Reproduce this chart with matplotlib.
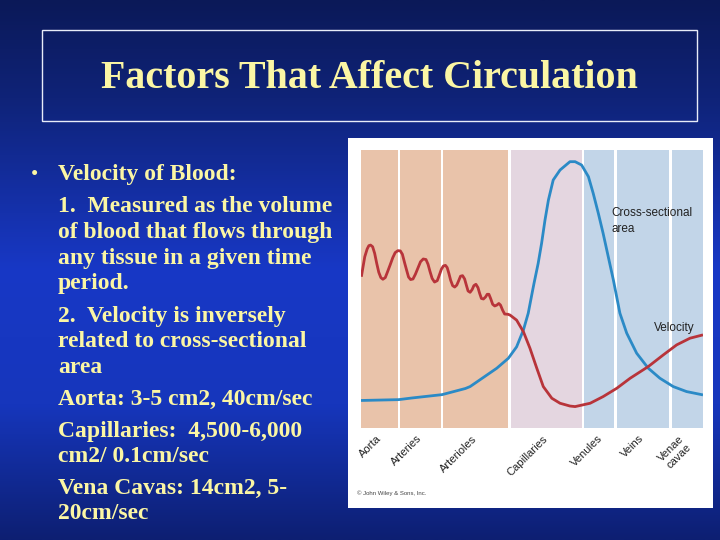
import numpy as np
import matplotlib.pyplot as plt
from matplotlib.patches import Rectangle
from matplotlib.colors import LinearSegmentedColormap

# -------- data (x: 0-100 across the plot, y: 0-100 up the plot) --------
categories = ['Aorta', 'Arteries', 'Arterioles', 'Capillaries',
              'Venules', 'Veins', 'Venae\ncavae']
label_pos = [4.6, 16.1, 32.5, 53.0, 69.0, 81.3, 92.8]
band_start = [0.0, 11.5, 24.1, 43.8, 65.3, 74.8, 90.8]
band_end = [10.7, 23.4, 43.0, 64.5, 74.1, 90.1, 100.0]
band_kind = ['art', 'art', 'art', 'cap', 'ven', 'ven', 'ven']

area_x = [0.0, 11.0, 14.9, 23.7, 30.5, 31.9, 35.8, 39.7, 43.1, 45.5,
          47.5, 48.9, 50.2, 50.6, 51.8, 52.8, 53.8, 54.8, 56.2, 58.2,
          61.1, 62.6, 64.5, 66.5, 67.9, 69.4, 70.8, 72.3, 73.8, 75.7,
          77.7, 80.6, 84.0, 87.4, 91.3, 95.2, 100.0]
area_y = [9.9, 10.2, 10.8, 12.0, 14.2, 14.9, 18.2, 21.5, 25.1, 29.2,
          35.3, 41.3, 49.6, 52.1, 59.2, 66.4, 74.8, 82.0, 89.2, 92.8,
          95.8, 95.8, 94.6, 90.4, 84.4, 77.2, 70.0, 61.6, 53.2, 41.3,
          34.1, 26.9, 21.5, 17.9, 14.9, 13.1, 11.9]

vel_x = [0.1, 0.6, 1.1, 1.8, 2.3, 2.8, 3.4, 4.0, 4.6, 5.2, 5.8, 6.4,
         7.1, 7.7, 8.5, 9.3, 10.0, 10.8, 11.5, 12.1, 12.8, 13.4, 13.9,
         14.5, 15.2, 15.9, 16.7, 17.4, 18.2, 19.0, 19.6, 20.2, 20.8,
         21.5, 22.3, 22.9, 23.5, 24.1, 24.7, 25.2, 25.7, 26.2, 26.8,
         27.4, 28.0, 28.6, 29.1, 29.7, 30.3, 30.8, 31.3, 31.9, 32.5,
         33.0, 33.6, 34.2, 34.7, 35.2, 35.8, 36.4, 36.9, 37.4, 37.9,
         38.5, 39.1, 39.7, 40.3, 40.8, 41.4, 42.0, 43.0, 43.6, 45.5,
         47.5, 49.4, 51.4, 53.3, 55.8, 58.2, 61.1, 62.6, 67.0, 70.8,
         74.8, 78.7, 84.0, 88.4, 92.3, 96.2, 100.0]
vel_y = [54.4, 58.0, 61.6, 64.4, 65.6, 65.8, 65.2, 62.8, 59.2, 56.0,
         54.1, 53.5, 54.1, 56.0, 58.6, 61.3, 63.1, 63.8, 63.7, 62.5,
         59.2, 56.5, 54.3, 53.4, 53.6, 55.3, 57.7, 59.8, 60.8, 60.6,
         58.9, 56.2, 53.8, 52.5, 53.0, 55.0, 57.1, 58.3, 58.5, 57.7,
         55.6, 53.2, 51.2, 50.7, 51.4, 53.1, 54.6, 54.8, 53.6, 51.4,
         49.3, 48.8, 49.8, 51.2, 51.7, 50.5, 48.4, 46.6, 46.4, 47.1,
         48.1, 48.1, 46.6, 44.5, 43.9, 44.2, 44.8, 44.2, 42.4, 41.0,
         40.9, 40.6, 38.8, 34.6, 28.7, 21.5, 14.9, 10.7, 8.9, 7.9,
         7.7, 8.9, 11.3, 14.3, 17.9, 22.1, 26.3, 29.9, 32.3, 33.5]

title = 'Factors That Affect Circulation'
bullet_lines = ['Velocity of Blood:',
                '1.  Measured as the volume',
                'of blood that flows through',
                'any tissue in a given time',
                'period.',
                '2.  Velocity is inversely',
                'related to cross-sectional',
                'area',
                'Aorta: 3-5 cm2, 40cm/sec',
                'Capillaries:  4,500-6,000',
                'cm2/ 0.1cm/sec',
                'Vena Cavas: 14cm2, 5-',
                '20cm/sec']
line_y = [180, 212, 238, 264, 289, 322, 347, 373, 405, 437, 462, 494, 519]

band_colors = {'art': '#e9c3aa', 'cap': '#e4d6e0', 'ven': '#c2d5e8'}
yellow = '#fbf6a4'

fig = plt.figure(figsize=(7.2, 5.4), dpi=100)

# -------- slide background --------
bg = fig.add_axes([0, 0, 1, 1])
cmap = LinearSegmentedColormap.from_list(
    'slide', [(0.0, '#0b1958'), (0.18, '#0f2378'), (0.5, '#1838c6'),
              (0.75, '#1636bc'), (1.0, '#0d1f72')])
grad = np.linspace(0, 1, 256).reshape(-1, 1)
bg.imshow(grad, cmap=cmap, aspect='auto', extent=[0, 720, 540, 0])
bg.set_xlim(0, 720)
bg.set_ylim(540, 0)
bg.axis('off')

bg.add_patch(Rectangle((42, 30), 655, 91, fill=False,
                       edgecolor='#e8ecf8', lw=1))
bg.text(369, 79, title, color=yellow, fontsize=28.8, fontweight='bold',
        family='Liberation Serif', ha='center', va='center')

bg.text(31, line_y[0], '\u2022', color=yellow, fontsize=15,
        family='Liberation Serif', ha='left', va='baseline')
for txt, y in zip(bullet_lines, line_y):
    bg.text(58, y, txt, color=yellow, fontsize=17, fontweight='bold',
            family='Liberation Serif', ha='left', va='baseline')

# white picture panel
bg.add_patch(Rectangle((348, 138), 365, 370, facecolor='white',
                       edgecolor='none'))
bg.text(357, 493, '\u00a9 John Wiley & Sons, Inc.', fontsize=4.3,
        color='#444444', family='Liberation Sans', va='center')

# -------- chart --------
ax = fig.add_axes([361 / 720, 112 / 540, 342 / 720, 278 / 540])
for s, e, k in zip(band_start, band_end, band_kind):
    ax.axvspan(s, e, color=band_colors[k], lw=0)

ax.plot(area_x, area_y, color='#2b8ac6', lw=2.0, solid_capstyle='butt')
ax.plot(vel_x, vel_y, color='#b8343a', lw=2.0, solid_capstyle='butt')

ax.text(73.1, 79.6, 'Cross-sectional\narea', fontsize=8.5,
        color='#222222', family='Liberation Sans', va='top', ha='left',
        linespacing=1.5)
ax.text(85.8, 36.0, 'Velocity', fontsize=8.5, color='#222222',
        family='Liberation Sans', va='center', ha='left')

ax.set_xlim(0, 100)
ax.set_ylim(0, 100)
ax.set_xticks(label_pos)
ax.set_xticklabels(categories, rotation=45, ha='right',
                   rotation_mode='anchor', fontsize=8, color='#222222',
                   family='Liberation Sans', multialignment='center')
ax.tick_params(axis='x', length=0, pad=4)
ax.set_yticks([])
for sp in ax.spines.values():
    sp.set_visible(False)

fig.savefig('out.png', dpi=100)
